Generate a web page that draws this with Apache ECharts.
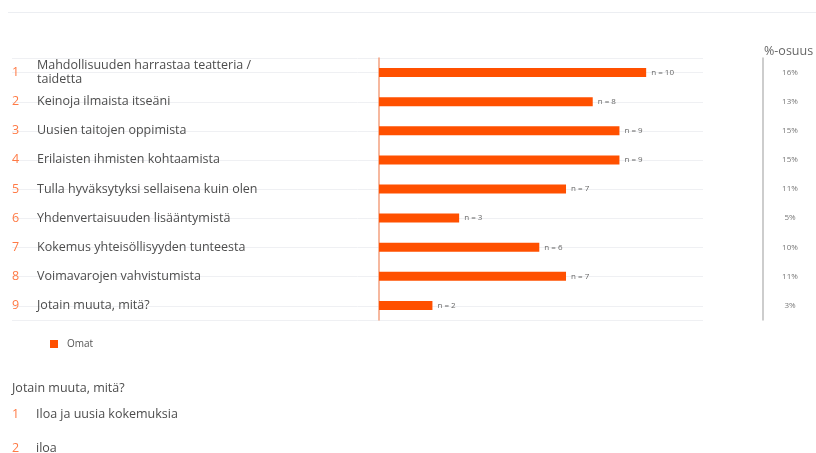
<!DOCTYPE html>
<html>
<head>
<meta charset="utf-8">
<script src="https://cdn.jsdelivr.net/npm/echarts@6/dist/echarts.min.js"></script>
<style>html,body{margin:0;padding:0;background:#fff;}#c{width:816px;height:453px;}</style>
</head>
<body>
<div id="c"></div>
<script>
const categories = [
  'Mahdollisuuden harrastaa teatteria / taidetta',
  'Keinoja ilmaista itseäni',
  'Uusien taitojen oppimista',
  'Erilaisten ihmisten kohtaamista',
  'Tulla hyväksytyksi sellaisena kuin olen',
  'Yhdenvertaisuuden lisääntymistä',
  'Kokemus yhteisöllisyyden tunteesta',
  'Voimavarojen vahvistumista',
  'Jotain muuta, mitä?'
];
const counts = [10, 8, 9, 9, 7, 3, 6, 7, 2];
const rowNumbers = ['1', '2', '3', '4', '5', '6', '7', '8', '9'];
const shares = ['16%', '13%', '15%', '15%', '11%', '5%', '10%', '11%', '3%'];
const seriesName = 'Omat';
const shareHeader = '%-osuus';
const otherTitle = 'Jotain muuta, mitä?';
const otherNumbers = ['1', '2'];
const otherAnswers = ['Iloa ja uusia kokemuksia', 'iloa'];

const FONT = 'Open Sans';
const ORANGE = '#ff5000';
const NUM_ORANGE = '#ff7a45';
const TEXT = '#4d4d4d';
const GRIDLINE = '#eff0f3';
const FS = 12.5;

const chart = echarts.init(document.getElementById('c'), null, {renderer: 'canvas'});

const answerTitles = [];
otherAnswers.forEach((a, i) => {
  const top = 408 + i * 34;
  answerTitles.push({text: otherNumbers[i], left: 12, top: top, padding: 0,
    textStyle: {fontSize: FS, fontWeight: 'normal', color: NUM_ORANGE, fontFamily: FONT}});
  answerTitles.push({text: a, left: 36, top: top, padding: 0,
    textStyle: {fontSize: FS, fontWeight: 'normal', color: TEXT, fontFamily: FONT}});
});

const option = {
  animation: false,
  backgroundColor: '#fff',
  textStyle: {fontFamily: FONT},
  title: [
    {text: shareHeader, left: 764, top: 45, padding: 0,
      textStyle: {fontSize: FS, fontWeight: 'normal', color: '#666', fontFamily: FONT}},
    {text: otherTitle, left: 12, top: 382, padding: 0,
      textStyle: {fontSize: FS, fontWeight: 'normal', color: TEXT, fontFamily: FONT}}
  ].concat(answerTitles),
  graphic: [{
    type: 'line', shape: {x1: 8, y1: 12.5, x2: 816, y2: 12.5},
    style: {stroke: '#eceef2', lineWidth: 1}, silent: true
  }],
  legend: {
    data: [seriesName], left: 50, top: 339, padding: 0,
    icon: 'rect', itemWidth: 8, itemHeight: 8, itemGap: 8,
    textStyle: {fontSize: 10, color: '#555', fontFamily: FONT, padding: [0, 0, 0, 4]}
  },
  grid: [
    {left: 379, right: 116.4, top: 58, height: 262},
    {left: 12, right: 113, top: 72.6, height: 233.2},
    {left: 12, right: 113, top: 58, height: 262}
  ],
  xAxis: [
    {gridIndex: 0, type: 'value', min: 0, max: 12, show: false},
    {gridIndex: 1, type: 'value', min: 0, max: 1, show: false},
    {gridIndex: 2, type: 'value', min: 0, max: 1, show: false}
  ],
  yAxis: [
    {gridIndex: 0, type: 'category', data: categories, inverse: true,
      axisLine: {show: true, lineStyle: {color: '#f3a07f', width: 1.5}},
      axisTick: {show: false}, splitLine: {show: false},
      axisLabel: {interval: 0, align: 'left', margin: 342, width: 240, overflow: 'break',
        color: TEXT, fontSize: FS, lineHeight: 13.5, fontFamily: FONT, padding: [4, 0, 0, 0]}},
    {gridIndex: 0, type: 'category', data: rowNumbers, inverse: true, position: 'left',
      axisLine: {show: false}, axisTick: {show: false}, splitLine: {show: false},
      axisLabel: {interval: 0, align: 'left', margin: 367, color: NUM_ORANGE, fontSize: FS, fontFamily: FONT, padding: [3, 0, 0, 0]}},
    {gridIndex: 0, type: 'category', data: shares, inverse: true, position: 'right', offset: 63.4,
      axisLine: {show: true, lineStyle: {color: '#bdbdbd', width: 1.5}},
      axisTick: {show: false}, splitLine: {show: false},
      axisLabel: {interval: 0, align: 'center', margin: 27, color: '#777', fontSize: 8, fontFamily: FONT}},
    {gridIndex: 1, type: 'category', data: categories, boundaryGap: false, inverse: true,
      axisLine: {show: false}, axisTick: {show: false, interval: 0},
      axisLabel: {show: false, interval: 0},
      splitLine: {show: true, interval: 0, lineStyle: {color: GRIDLINE, width: 1}}},
    {gridIndex: 2, type: 'value', min: 0, max: 1, interval: 1,
      axisLine: {show: false}, axisTick: {show: false}, axisLabel: {show: false},
      splitLine: {show: true, lineStyle: {color: GRIDLINE, width: 1}}}
  ],
  series: [{
    name: seriesName, type: 'bar', xAxisIndex: 0, yAxisIndex: 0,
    data: counts, barWidth: 9, z: 3,
    itemStyle: {color: ORANGE},
    label: {show: true, position: 'right', distance: 5, formatter: 'n = {c}',
      fontSize: 8, color: '#666', fontFamily: FONT}
  }]
};
chart.setOption(option);
</script>
</body>
</html>
